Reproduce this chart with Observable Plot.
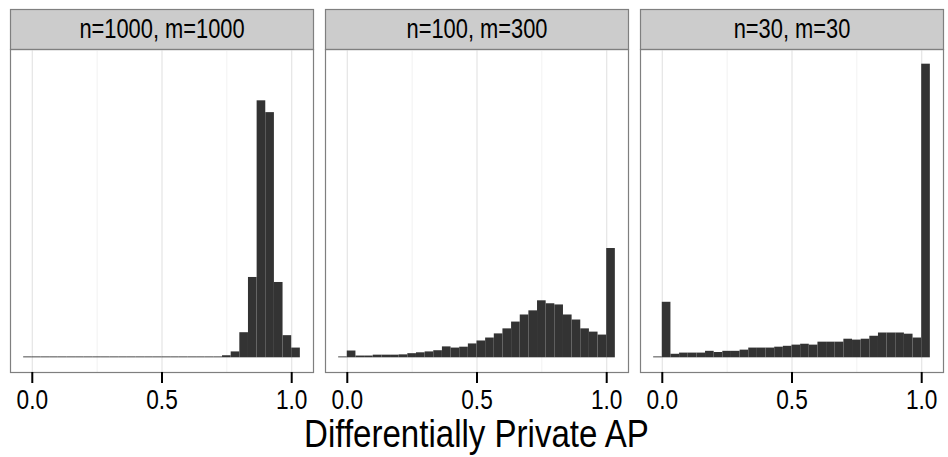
<!DOCTYPE html>
<html><head><meta charset="utf-8">
<script src="https://cdn.jsdelivr.net/npm/d3@7"></script>
<script src="https://cdn.jsdelivr.net/npm/@observablehq/plot@0.6"></script>
<style>
body{margin:0;background:#fff;font-family:"Liberation Sans",Arial,sans-serif;}
</style></head><body>
<div id="chart"></div>
<script>
const panels = ["n=1000, m=1000", "n=100, m=300", "n=30, m=30"];
const binStart = [-0.0333, 0, 0.0333, 0.0667, 0.1, 0.1333, 0.1667, 0.2, 0.2333, 0.2667,
  0.3, 0.3333, 0.3667, 0.4, 0.4333, 0.4667, 0.5, 0.5333, 0.5667, 0.6, 0.6333, 0.6667,
  0.7, 0.7333, 0.7667, 0.8, 0.8333, 0.8667, 0.9, 0.9333, 0.9667, 1.0];
const binWidth = 0.0333;
const countsA = [3, 3, 3, 3, 3, 3, 3, 3, 3, 3, 3, 3, 3, 3, 3, 3, 3, 3, 3, 3, 3, 3, 3,
  7, 20, 85, 272, 870, 830, 255, 75, 33];
const countsB = [3, 23, 6, 6, 9, 9, 9, 10, 14, 17, 20, 24, 37, 33, 36, 47, 57, 67, 81, 98,
  121, 145, 159, 193, 183, 179, 145, 128, 98, 87, 77, 370];
const countsC = [3, 188, 12, 16, 16, 16, 22, 18, 22, 22, 26, 33, 33, 33, 36, 39, 43, 46, 43,
  53, 53, 53, 63, 60, 63, 73, 84, 84, 84, 80, 67, 994];
const xTicks = [0, 0.5, 1];
const minorTicks = [0.25, 0.75];
const xTitle = "Differentially Private AP";

const rows = [];
[countsA, countsB, countsC].forEach((c, i) => c.forEach((v, j) =>
  rows.push({panel: panels[i], x1: binStart[j], x2: binStart[j] + binWidth, count: v})));
const ymax = d3.max(rows, d => d.count);

const chart = Plot.plot({
  width: 948, height: 457,
  marginLeft: 9.5, marginRight: 4, marginTop: 49, marginBottom: 85,
  fx: {domain: panels, paddingInner: 0.038, paddingOuter: 0, axis: null, label: null},
  x: {domain: [-0.084, 1.084], label: null},
  y: {domain: [-0.05 * ymax, 1.05 * ymax], axis: null},
  style: {fontFamily: "'Liberation Sans', Arial, sans-serif", color: "#000", background: "#fff"},
  marks: [
    Plot.frame({fill: "#cccccc", stroke: "#7f7f7f", strokeWidth: 1.2, insetTop: -40, insetBottom: 323}),
    Plot.ruleX(minorTicks, {stroke: "#f2f2f2", strokeWidth: 1}),
    Plot.ruleX(xTicks, {stroke: "#e5e5e5", strokeWidth: 1.2}),
    Plot.rectY(rows, {x1: "x1", x2: "x2", y1: 0, y2: "count", fx: "panel", fill: "#333333"}),
    Plot.frame({stroke: "#7f7f7f", strokeWidth: 1.2}),
    Plot.text(panels, {fx: d => d, text: d => d, frameAnchor: "top", lineAnchor: "middle",
      dy: -20, fontSize: 27, fill: "#000"}),
    Plot.axisX({ticks: xTicks, tickFormat: d3.format(".1f"), tickSize: 11, strokeWidth: 2,
      fontSize: 28, tickPadding: 6, label: null, fill: "#000"})
  ]
});

// x-axis title centred under the facets
const fx = chart.scale("fx");
const cx = (fx.apply(panels[0]) + fx.apply(panels[panels.length - 1]) + fx.bandwidth) / 2;
d3.select(chart).append("text")
  .attr("transform", `translate(${cx},447)`)
  .attr("text-anchor", "middle")
  .attr("font-size", 38)
  .attr("fill", "#000")
  .text(xTitle);

// narrow the glyphs horizontally (reference uses a condensed Helvetica look)
d3.select(chart).selectAll("text").each(function() {
  const t = this.getAttribute("transform") || "";
  const x = this.getAttribute("x");
  let extra = "";
  if (x != null && x !== "" && !isNaN(+x)) {
    this.removeAttribute("x");
    extra = ` translate(${+x},0)`;
  }
  const s = this.textContent === xTitle ? 0.87 : 0.81;
  this.setAttribute("transform", `${t}${extra} scale(${s},1)`);
});

document.getElementById("chart").appendChild(chart);
</script>
</body></html>
